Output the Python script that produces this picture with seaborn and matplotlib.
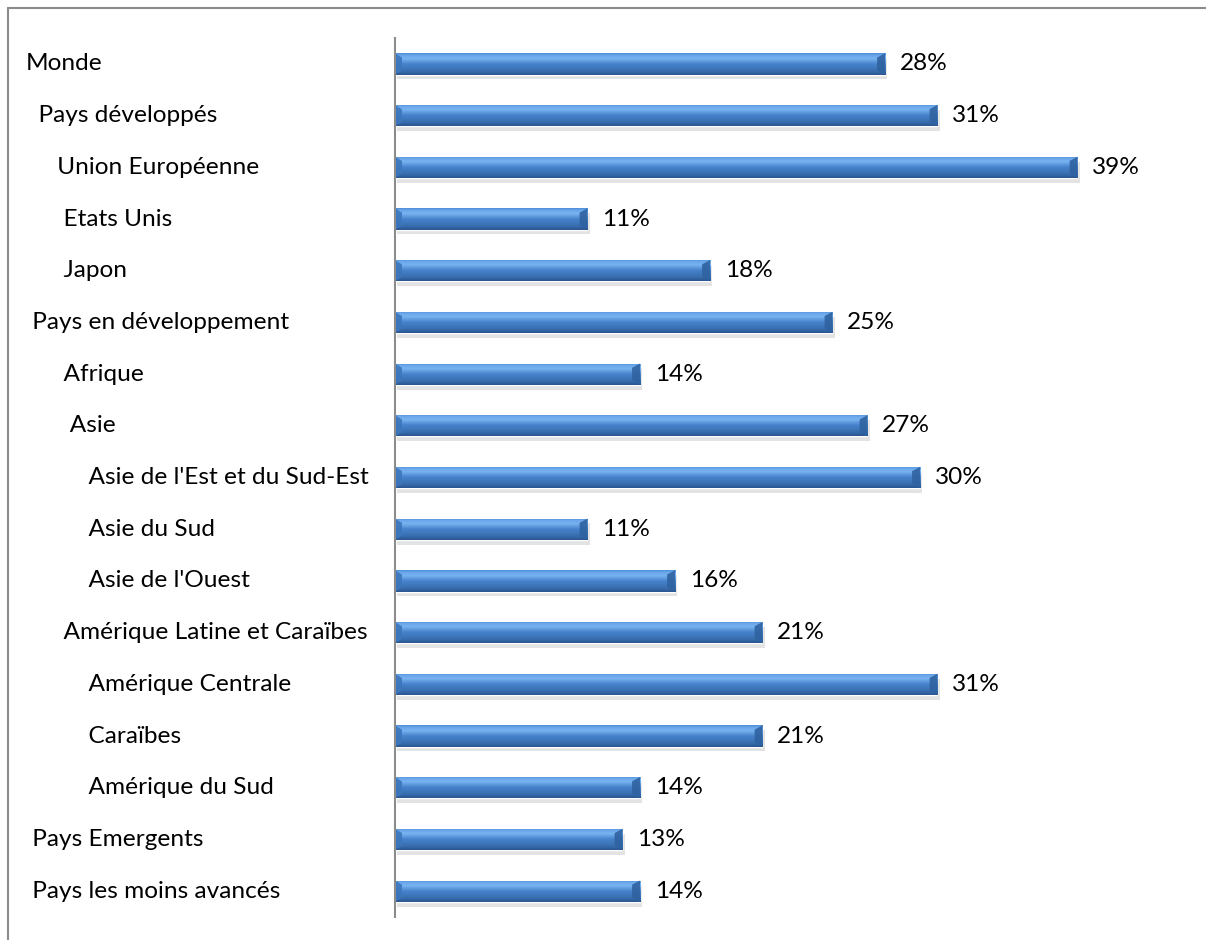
import numpy as np
import pandas as pd
import seaborn as sns
import matplotlib.pyplot as plt
import matplotlib.patheffects as pe
from matplotlib.colors import to_rgb
from matplotlib.lines import Line2D
from matplotlib.transforms import blended_transform_factory

# Data (leading spaces = indentation of sub-regions, as in the source sheet)
regions = [
    "Monde",
    "  Pays développés",
    "     Union Européenne",
    "      Etats Unis",
    "      Japon",
    " Pays en développement",
    "      Afrique",
    "       Asie",
    "          Asie de l'Est et du Sud-Est",
    "          Asie du Sud",
    "          Asie de l'Ouest",
    "      Amérique Latine et Caraïbes",
    "          Amérique Centrale",
    "          Caraïbes",
    "          Amérique du Sud",
    " Pays Emergents",
    " Pays les moins avancés",
]
shares = [28, 31, 39, 11, 18, 25, 14, 27, 30, 11, 16, 21, 31, 21, 14, 13, 14]

df = pd.DataFrame({"Region": regions, "Part": shares})

sns.set_style("white")
plt.rcParams["font.family"] = ["Lato", "DejaVu Sans"]
FS = 17.6

fig = plt.figure(figsize=(12.06, 9.4), dpi=100)
ax = fig.add_axes([0.3275, 0.0245, 0.653, 0.935])

sns.barplot(data=df, x="Part", y="Region", orient="h", color="#3f7fc8",
            width=0.41, ax=ax)

# cylinder-like gradient on every bar
stops = [0.0, 0.1, 0.25, 0.5, 0.8, 1.0]
cols = [to_rgb(c) for c in ["#4f8fd8", "#6aa6ea", "#78b2f0", "#4683cc", "#3a70b2", "#2a5690"]]
t = np.linspace(0, 1, 64)
grad = np.stack([np.interp(t, stops, [c[i] for c in cols]) for i in range(3)], axis=-1)
grad = grad[:, None, :]

for p in ax.patches:
    p.set_path_effects([pe.SimplePatchShadow(offset=(1.5, -3.5), alpha=0.22, shadow_rgbFace="#808080"),
                        pe.Normal()])
    x, y, w, h = p.get_x(), p.get_y(), p.get_width(), p.get_height()
    im = ax.imshow(grad, extent=(x, x + w, y, y + h), origin="lower",
                   aspect="auto", zorder=p.get_zorder() + 0.1)
    im.set_clip_path(p)
    # bevels at both ends
    ax.fill([x + w - 0.45, x + w, x + w, x + w - 0.45],
            [y + h * 0.2, y, y + h, y + h * 0.8],
            color="#2f62a0", alpha=0.9, zorder=p.get_zorder() + 0.2, lw=0)
    ax.fill([x, x + 0.4, x + 0.4, x],
            [y, y + h * 0.2, y + h * 0.8, y + h],
            color="#3b76bd", alpha=0.9, zorder=p.get_zorder() + 0.2, lw=0)

ax.set_xlim(0, 45)
ax.set_ylim(len(regions) - 0.5, -0.5)

ax.bar_label(ax.containers[0], labels=[f"{v}%" for v in shares],
             padding=10.5, fontsize=FS, color="black")

# category labels, left aligned
ax.set_yticks(range(len(regions)))
ax.set_yticklabels([])
ax.tick_params(left=False, bottom=False, labelbottom=False)
trans = blended_transform_factory(fig.transFigure, ax.transData)
for i, lab in enumerate(regions):
    ax.text(26 / 1206, i, lab, transform=trans, ha="left", va="center",
            fontsize=FS, color="black")

ax.set_xlabel("")
ax.set_ylabel("")
for s in ["top", "right", "bottom"]:
    ax.spines[s].set_visible(False)
ax.spines["left"].set_color("#8c8c8c")
ax.spines["left"].set_linewidth(1.5)

# outer frame (top and left)
fig.add_artist(Line2D([8 / 1206, 1], [1 - 8 / 940, 1 - 8 / 940],
                      transform=fig.transFigure, color="#8c8c8c", lw=1.5))
fig.add_artist(Line2D([8 / 1206, 8 / 1206], [0, 1 - 8 / 940],
                      transform=fig.transFigure, color="#8c8c8c", lw=1.5))

fig.savefig("out.png", dpi=100)
